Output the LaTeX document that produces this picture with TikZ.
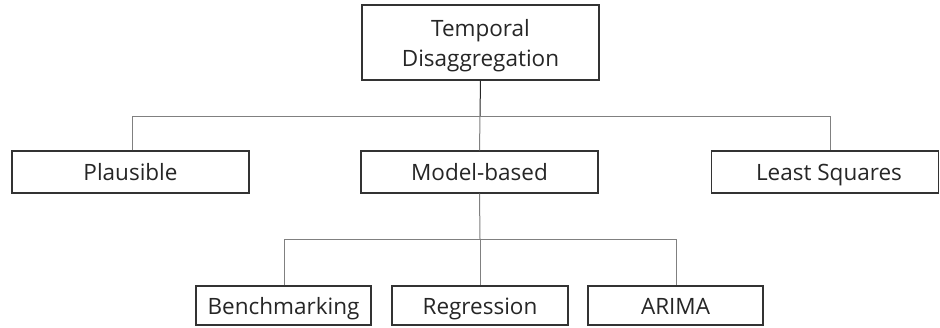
\documentclass[tikz,border=0pt]{standalone}
\usepackage{fontspec}
\setmainfont{Open Sans}
\begin{document}
\begin{tikzpicture}[x=1pt,y=-1pt,
  box/.style={draw=black!80,line width=1.2pt,fill=white,inner sep=0pt,align=center,
    text=black!85,font=\fontsize{22.5}{30}\selectfont},
  single/.style={box,text height=19.5pt,text depth=2pt},
  wire/.style={draw=black!50,line width=1pt},
  stem/.style={draw=black!85,line width=1pt}]
\useasboundingbox (0,0) rectangle (940,327);
\node[box,text depth=0pt,minimum width=237,minimum height=75] (top) at (480.5,42.5) {Temporal\\Disaggregation};
\node[single,minimum width=237,minimum height=42] (plaus) at (130.5,172) {Plausible};
\node[single,minimum width=237,minimum height=42] (model) at (479.5,172) {Model-based};
\node[single,minimum width=227,minimum height=42] (ls) at (825,172) {\hspace*{8pt}Least Squares};
\node[single,minimum width=175,minimum height=39] (bench) at (283.5,305.5) {Benchmarking};
\node[single,minimum width=176,minimum height=39] (regr) at (480,305.5) {Regression};
\node[single,minimum width=175,minimum height=39] (arima) at (675.5,305.5) {ARIMA};
\coordinate (bus1) at (480,116);
\coordinate (bus1l) at (132,116);
\coordinate (bus1r) at (830,116);
\coordinate (bus2) at (480,239);
\coordinate (bus2l) at (284,239);
\coordinate (bus2r) at (676,239);
\draw[stem] (top.south) -- (bus1);
\draw[wire] (plaus.north -| bus1l) -- (bus1l) -- (bus1r) -- (ls.north -| bus1r);
\draw[wire] (bus1) -- (model.north);
\draw[wire] (model.south) -- (bus2);
\draw[wire] (bench.north -| bus2l) -- (bus2l) -- (bus2r) -- (arima.north -| bus2r);
\draw[wire] (bus2) -- (regr.north);
\end{tikzpicture}
\end{document}
